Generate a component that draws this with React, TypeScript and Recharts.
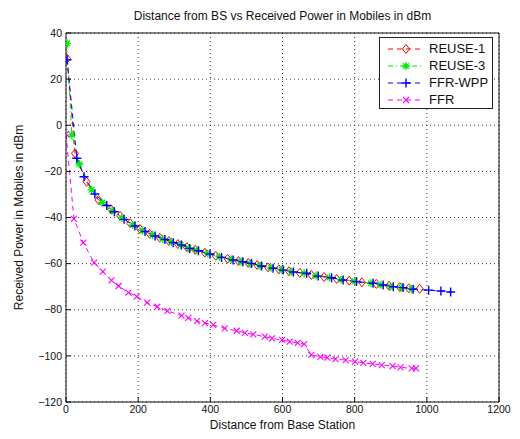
import React from 'react';
import { LineChart, Line, XAxis, YAxis, CartesianGrid } from 'recharts';

const reuse1X = [3, 25, 57, 90, 125, 150, 178, 205, 232, 260, 285, 310, 335, 358, 385, 415, 448, 478, 505, 530, 560, 590, 618, 648, 680, 715, 750, 785, 820, 860, 895, 925, 950, 980];
const reuse1Y = [28.9, -12.2, -24.5, -32.4, -36.5, -39.3, -42.5, -45, -47.1, -48.8, -50.2, -51.5, -52.9, -54, -55.3, -56.6, -57.9, -58.9, -59.7, -60.6, -61.6, -62.5, -63.3, -64, -64.9, -65.8, -66.6, -67.4, -68.1, -68.8, -69.6, -70.2, -70.7, -70.9];

const reuse3X = [3, 16, 37, 71, 100, 128, 155, 185, 212, 240, 268, 292, 318, 340, 362, 393, 425, 458, 485, 510, 538, 568, 598, 625, 660, 693, 730, 762, 800, 845, 873, 900, 930, 958];
const reuse3Y = [35.5, -4.2, -16.8, -28, -33.5, -37, -40.2, -43.2, -45.6, -47.6, -49.3, -50.6, -51.8, -53.2, -54.2, -55.6, -57, -58.2, -59.1, -59.9, -60.9, -61.8, -62.7, -63.5, -64.2, -65.2, -66, -66.9, -67.7, -68.5, -69.2, -69.9, -70.4, -71];

const ffrWppX = [3, 30, 50, 80, 113, 134, 161, 191, 219, 247, 274, 297, 320, 343, 367, 399, 431, 463, 490, 514, 542, 574, 602, 630, 667, 699, 736, 768, 805, 851, 879, 907, 934, 962, 1005, 1039, 1066];
const ffrWppY = [28.4, -14.3, -22.3, -29.8, -34.8, -37.5, -40.8, -43.7, -46.1, -48, -49.5, -50.9, -51.9, -53.4, -54.4, -55.8, -57.3, -58.4, -59.2, -59.9, -61, -62, -62.8, -63.6, -64.2, -65.4, -66.1, -67.1, -67.8, -68.5, -69.3, -70, -70.4, -71.1, -71.5, -71.9, -72.3];

const ffrX = [0, 22, 48, 78, 102, 126, 146, 173, 196, 225, 253, 281, 320, 339, 363, 385, 408, 440, 473, 496, 519, 551, 571, 599, 620, 642, 660, 680, 705, 724, 747, 775, 801, 824, 850, 875, 905, 927, 958, 970];
const ffrY = [-3.8, -40.6, -50.9, -59.6, -63.5, -67.3, -69.7, -72.6, -74.3, -76.9, -78.7, -80.5, -82.5, -83.5, -84.9, -85.8, -86.6, -88.1, -89.1, -90, -90.7, -91.7, -92.4, -93.1, -93.8, -94.4, -94.9, -99.6, -100.4, -100.8, -101.4, -101.8, -102.5, -103, -103.5, -104, -104.4, -105, -105.4, -105.4];

const xTicks = [0, 200, 400, 600, 800, 1000, 1200];
const yTicks = [-120, -100, -80, -60, -40, -20, 0, 20, 40];

const seriesNames = ['REUSE-1', 'REUSE-3', 'FFR-WPP', 'FFR'];
const titleText = 'Distance from BS vs Received Power in Mobiles in dBm';
const xLabelText = 'Distance from Base Station';
const yLabelText = 'Received Power in Mobiles in dBm';

const toData = (xs: number[], ys: number[]) => xs.map((x, i) => ({ x, y: ys[i] }));
const reuse1Data = toData(reuse1X, reuse1Y);
const reuse3Data = toData(reuse3X, reuse3Y);
const ffrWppData = toData(ffrWppX, ffrWppY);
const ffrData = toData(ffrX, ffrY);

const FONT = '"Liberation Sans", Arial, Helvetica, sans-serif';
const RED = '#ff0000';
const GREEN = '#00ee00';
const BLUE = '#0000ff';
const MAGENTA = '#ff00ff';

const DiamondShape = ({ cx, cy }: { cx: number; cy: number }) => (
  <path d={`M${cx},${cy - 4.5}L${cx + 3.5},${cy}L${cx},${cy + 4.5}L${cx - 3.5},${cy}Z`} fill="none" stroke={RED} strokeWidth={1} />
);
const StarShape = ({ cx, cy }: { cx: number; cy: number }) => (
  <path d={`M${cx - 4},${cy}L${cx + 4},${cy}M${cx},${cy - 4}L${cx},${cy + 4}M${cx - 2.8},${cy - 2.8}L${cx + 2.8},${cy + 2.8}M${cx - 2.8},${cy + 2.8}L${cx + 2.8},${cy - 2.8}`} fill="none" stroke={GREEN} strokeWidth={1.3} />
);
const PlusShape = ({ cx, cy }: { cx: number; cy: number }) => (
  <path d={`M${cx - 4.5},${cy}L${cx + 4.5},${cy}M${cx},${cy - 4.5}L${cx},${cy + 4.5}`} fill="none" stroke={BLUE} strokeWidth={1.4} />
);
const XShape = ({ cx, cy }: { cx: number; cy: number }) => (
  <path d={`M${cx - 3},${cy - 3}L${cx + 3},${cy + 3}M${cx - 3},${cy + 3}L${cx + 3},${cy - 3}`} fill="none" stroke={MAGENTA} strokeWidth={1.1} />
);

const mkDot = (Shape: any) => (props: any) => {
  const { cx, cy, index } = props;
  if (cx == null || cy == null) return <g key={`e-${index}`} />;
  return <Shape key={`d-${index}`} cx={cx} cy={cy} />;
};

const legendItems = [
  { name: seriesNames[0], color: RED, dash: '5 4', Shape: DiamondShape },
  { name: seriesNames[1], color: GREEN, dash: '5 3 1 3', Shape: StarShape },
  { name: seriesNames[2], color: BLUE, dash: '5 4', Shape: PlusShape },
  { name: seriesNames[3], color: MAGENTA, dash: '5 4', Shape: XShape },
];

const LegendBox = () => (
  <div
    style={{
      position: 'absolute',
      left: 371,
      top: 29,
      width: 112,
      height: 68,
      border: '1px solid #222',
      background: '#fff',
      paddingTop: 2,
      fontFamily: FONT,
      fontSize: 13,
      color: '#111',
    }}
  >
    {legendItems.map((it) => (
      <div key={it.name} style={{ display: 'flex', alignItems: 'center', height: 17 }}>
        <svg width={48} height={14} style={{ display: 'block' }}>
          <line x1={8} y1={7} x2={44} y2={7} stroke={it.color} strokeWidth={1} strokeDasharray={it.dash} />
          <it.Shape cx={26} cy={7} />
        </svg>
        <span style={{ marginLeft: 1 }}>{it.name}</span>
      </div>
    ))}
  </div>
);

const axisTick = { fontSize: 10.5, fill: '#111', fontFamily: FONT };
const fmtY = (v: number) => (v < 0 ? `\u2212${Math.abs(v)}` : `${v}`);

export default function App() {
  return (
    <div style={{ position: 'relative', width: 512, height: 431, background: '#fff' }}>
      <LineChart width={512} height={431} margin={{ top: 24, right: 20, bottom: 0, left: 0 }} style={{ fontFamily: FONT }}>
        <CartesianGrid xAxisId="b" yAxisId="l" stroke="#333" strokeDasharray="1 3" strokeWidth={1} />
        <XAxis
          xAxisId="b"
          type="number"
          dataKey="x"
          domain={[0, 1200]}
          ticks={xTicks}
          allowDataOverflow
          stroke="#111"
          tick={axisTick}
          tickSize={-5}
          tickMargin={9}
          height={37}
          label={{
            content: () => (
              <text x={274.5} y={417} textAnchor="middle" dominantBaseline="central" fontSize={12} fill="#111" fontFamily={FONT}>
                {xLabelText}
              </text>
            ),
          }}
        />
        <XAxis xAxisId="t" orientation="top" type="number" domain={[0, 1200]} ticks={xTicks} height={1} stroke="#111" tick={false} tickSize={-5} />
        <YAxis
          yAxisId="l"
          type="number"
          domain={[-120, 40]}
          ticks={yTicks}
          allowDataOverflow
          width={58}
          stroke="#111"
          tick={axisTick}
          tickFormatter={fmtY}
          tickSize={-5}
          tickMargin={9}
          label={{
            content: () => (
              <text x={11} y={209.5} transform="rotate(-90 11 209.5)" textAnchor="middle" dominantBaseline="central" fontSize={12} fill="#111" fontFamily={FONT}>
                {yLabelText}
              </text>
            ),
          }}
        />
        <YAxis yAxisId="r" orientation="right" type="number" domain={[-120, 40]} ticks={yTicks} width={1} stroke="#111" tick={false} tickSize={-5} />
        <Line xAxisId="b" yAxisId="l" data={reuse1Data} dataKey="y" name={seriesNames[0]} stroke={RED} strokeWidth={1} strokeDasharray="5 4" dot={mkDot(DiamondShape)} activeDot={false} isAnimationActive={false} type="linear" />
        <Line xAxisId="b" yAxisId="l" data={reuse3Data} dataKey="y" name={seriesNames[1]} stroke={GREEN} strokeWidth={1} strokeDasharray="5 3 1 3" dot={mkDot(StarShape)} activeDot={false} isAnimationActive={false} type="linear" />
        <Line xAxisId="b" yAxisId="l" data={ffrWppData} dataKey="y" name={seriesNames[2]} stroke={BLUE} strokeWidth={1} strokeDasharray="5 4" dot={mkDot(PlusShape)} activeDot={false} isAnimationActive={false} type="linear" />
        <Line xAxisId="b" yAxisId="l" data={ffrData} dataKey="y" name={seriesNames[3]} stroke={MAGENTA} strokeWidth={1} strokeDasharray="5 4" dot={mkDot(XShape)} activeDot={false} isAnimationActive={false} type="linear" />
      </LineChart>
      <LegendBox />
      <div
        style={{
          position: 'absolute',
          left: 58,
          width: 433,
          top: 1,
          textAlign: 'center',
          fontFamily: FONT,
          fontSize: 12,
          color: '#111',
          lineHeight: '14px',
        }}
      >
        {titleText}
      </div>
    </div>
  );
}
